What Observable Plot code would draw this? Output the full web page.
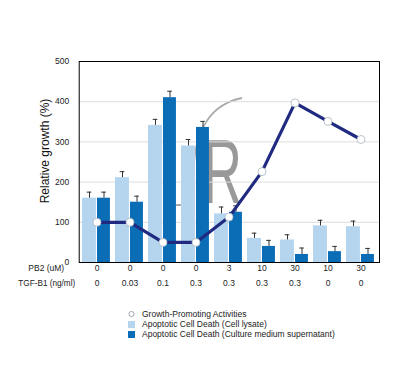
<!DOCTYPE html>
<html><head><meta charset="utf-8">
<script src="https://cdn.jsdelivr.net/npm/d3@7"></script>
<script src="https://cdn.jsdelivr.net/npm/@observablehq/plot@0.6"></script>
<style>body{margin:0;background:#fff;font-family:"Liberation Sans",Arial,sans-serif}</style>
</head><body><div id="chart"></div>
<script>
const groups = ["g1","g2","g3","g4","g5","g6","g7","g8","g9"];
const pb2 = ["0","0","0","0","3","10","30","10","30"];
const tgf = ["0","0.03","0.1","0.3","0.3","0.3","0.3","0","0"];
const lysate = [160,211,341,290,121,60,56,91,89];
const lysateErr = [15,15,15,16,17,13,13,14,14];
const supern = [160,150,410,336,125,40,20,27,20];
const supernErr = [15,15,16,15,16,15,16,13,15];
const growth = [100,100,50,50,113,226,397,351,306];
const yTicks = [0,100,200,300,400,500];
const yLabel = "Relative growth (%)";
const legendLabels = ["Growth-Promoting Activities","Apoptotic Cell Death (Cell lysate)","Apoptotic Cell Death (Culture medium supernatant)"];

const rows = groups.map((g,i)=>({g, pb2:pb2[i], tgf:tgf[i], l:lysate[i], le:lysateErr[i], s:supern[i], se:supernErr[i], gr:growth[i]}));

const light = "#b5d5ee", dark = "#0a6db6", navy = "#1f2a80", errc = "#333";
const W = 408, H = 385, mL = 78.7, mR = 29, mT = 61, mB = H - 262;
const bw = (W - mL - mR) / 9;
const FONT = '"Liberation Sans", Arial, sans-serif';

const plot = Plot.plot({
  width: W, height: H,
  marginLeft: mL, marginRight: mR, marginTop: mT, marginBottom: mB,
  style: {fontFamily: FONT, fontSize: "8.5px", color: "#222", background: "#fff"},
  x: {type: "band", domain: groups, padding: 0, axis: null},
  y: {domain: [0, 500], ticks: yTicks, grid: false},
  marks: [
    Plot.gridY(yTicks.slice(1, -1), {stroke: "#ddd", strokeOpacity: 1}),
    Plot.axisY({ticks: yTicks, tickSize: 0, tickPadding: 10, label: null, fontSize: 8.5}),
    Plot.barY(rows, {x: "g", y: "l", fill: light, insetLeft: 2, insetRight: bw - 16.3}),
    Plot.barY(rows, {x: "g", y: "s", fill: dark, insetLeft: 17, insetRight: bw - 30.3}),
    Plot.ruleX(rows, {x: "g", y1: "l", y2: d => d.l + d.le, dx: -7.5, stroke: errc, strokeWidth: 1}),
    Plot.tickY(rows, {x: "g", y: d => d.l + d.le, insetLeft: 6.7, insetRight: bw - 11.7, stroke: errc, strokeWidth: 1}),
    Plot.ruleX(rows, {x: "g", y1: "s", y2: d => d.s + d.se, dx: 7, stroke: errc, strokeWidth: 1}),
    Plot.tickY(rows, {x: "g", y: d => d.s + d.se, insetLeft: 21.2, insetRight: bw - 26.2, stroke: errc, strokeWidth: 1}),
    Plot.line(rows, {x: "g", y: "gr", stroke: navy, strokeWidth: 3.2}),
    Plot.dot(rows, {x: "g", y: "gr", r: 4, fill: "#fff", stroke: "#a9b4bf", strokeWidth: 0.8}),
    Plot.frame({stroke: "#000", strokeWidth: 1}),
    Plot.text(rows, {x: "g", text: "pb2", frameAnchor: "bottom", dy: 8, fontSize: 8.5}),
    Plot.text(rows, {x: "g", text: "tgf", frameAnchor: "bottom", dy: 23, fontSize: 8.5}),
    Plot.text(["PB2 (uM)"], {frameAnchor: "bottom-left", dx: -15, dy: 8, textAnchor: "end", fontSize: 8.5}),
    Plot.text(["TGF-B1 (ng/ml)"], {frameAnchor: "bottom-left", dx: -4, dy: 23, textAnchor: "end", fontSize: 8.2})
  ]
});

const svg = d3.select(plot);
// watermark behind marks
const wm = svg.insert("g", "g").attr("pointer-events", "none");
wm.append("path")
  .attr("d", "M176,205 L189,205 C196,205 192,182 194,162 C197,128 212,104 242,98")
  .attr("fill", "none").attr("stroke", "#aaa").attr("stroke-width", 2);
wm.append("text").text("R")
  .attr("text-anchor", "start")
  .attr("transform", "translate(203,203) scale(0.6,1)")
  .attr("font-size", 90).attr("fill", "#999").attr("font-family", FONT);

// y label
svg.append("text").text(yLabel)
  .attr("text-anchor", "middle")
  .attr("transform", "translate(45,151) rotate(-90)")
  .attr("dy", "0.35em")
  .attr("font-size", 12).attr("fill", "#111").attr("font-family", FONT);

// legend
const lg = svg.append("g").attr("font-size", 8.5).attr("fill", "#222").attr("text-anchor", "start");
const ly = [314, 324.5, 334.5];
lg.append("circle").attr("cx", 131.5).attr("cy", ly[0]).attr("r", 2.6).attr("fill", "#fff").attr("stroke", "#8a96a3").attr("stroke-width", 0.8);
lg.append("rect").attr("x", 128).attr("y", ly[1] - 3.5).attr("width", 7).attr("height", 7).attr("fill", light);
lg.append("rect").attr("x", 128).attr("y", ly[2] - 3.5).attr("width", 7).attr("height", 7).attr("fill", dark);
legendLabels.forEach((t, i) => {
  lg.append("text").attr("x", 142).attr("y", ly[i]).attr("dy", "0.35em").text(t);
});

document.getElementById("chart").append(plot);
</script></body></html>
